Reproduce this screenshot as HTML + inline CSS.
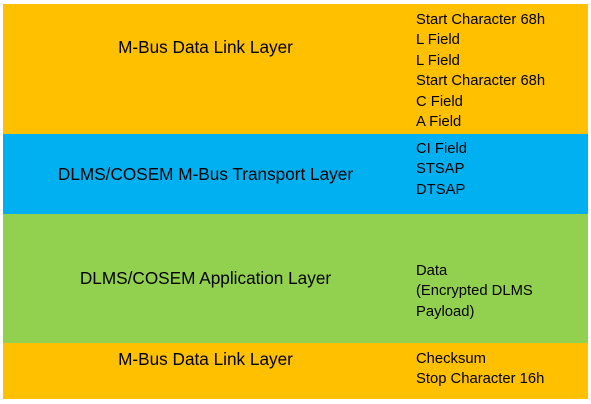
<!DOCTYPE html>
<html><head><style>
body{margin:0;width:591px;height:404px;background:#fff;position:relative;font-family:"Liberation Sans",sans-serif;overflow:hidden}
.b{position:absolute;left:3px;width:585px}
.t{position:absolute;left:0;width:405px;text-align:center;font-size:17.2px;color:#000}
.r{position:absolute;left:413px;font-size:14.8px;line-height:20.4px;color:#000;white-space:nowrap}
</style></head><body>
<div class="b" style="top:4px;height:130px;background:#FFC000">
<div class="t" style="top:33px">M-Bus Data Link Layer</div>
<div class="r" style="top:6px">Start Character 68h<br>L Field<br>L Field<br>Start Character 68h<br>C Field<br>A Field</div>
</div>
<div class="b" style="top:134px;height:80px;background:#00B0F0">
<div class="t" style="top:30px">DLMS/COSEM M-Bus Transport Layer</div>
<div class="r" style="top:5px">CI Field<br>STSAP<br>DTSAP</div>
</div>
<div class="b" style="top:214px;height:129px;background:#92D050">
<div class="t" style="top:54px">DLMS/COSEM Application Layer</div>
<div class="r" style="top:47px">Data<br>(Encrypted DLMS<br>Payload)</div>
</div>
<div class="b" style="top:343px;height:56px;background:#FFC000">
<div class="t" style="top:6px">M-Bus Data Link Layer</div>
<div class="r" style="top:6px">Checksum<br>Stop Character 16h</div>
</div>
</body></html>
